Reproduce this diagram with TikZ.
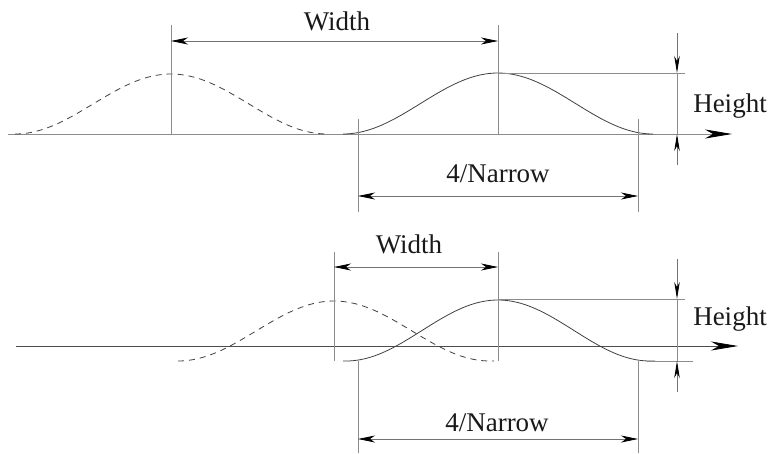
\documentclass[tikz,border=0pt]{standalone}
\usepackage{fontspec}
\setmainfont{Liberation Serif}
\usetikzlibrary{arrows.meta}
\begin{document}
\begin{tikzpicture}[x=1pt,y=-1pt,
  guide/.style={draw=black!45, line width=0.9pt},
  axisline/.style={line width=0.8pt, -{Stealth[length=27pt,width=9pt,inset=8pt,color=black]}},
  dimarrow/.style={draw=black!55, line width=0.8pt, {Stealth[length=17pt,width=7pt,inset=5pt,color=black]}-{Stealth[length=17pt,width=7pt,inset=5pt,color=black]}},
  harrow/.style={draw=black!55, line width=0.8pt, -{Stealth[length=17pt,width=5.5pt,inset=5pt,color=black]}},
  curve/.style={draw=black!75, line width=0.8pt},
  dcurve/.style={curve, dash pattern=on 6pt off 5pt},
  lbl/.style={font=\fontsize{27}{30}\selectfont, inner sep=0pt, text=black!90, anchor=base}]
\useasboundingbox (0,0) rectangle (771,453);

% ---------------- top diagram ----------------
\coordinate (a1s) at (8,134);
\coordinate (a1e) at (732,134);
\draw[axisline, draw=black!45] (a1s) -- (a1e);

\draw[dcurve] plot[domain=-156:156, samples=90] ({171+\x}, {134-30*(1+cos(\x/156*180))});
\draw[curve] plot[domain=-155:155, samples=90] ({498+\x}, {134-30.5*(1+cos(\x/155*180))});

\coordinate (v1t) at (171,25); \coordinate (v1b) at (171,134);
\coordinate (v2t) at (498,25); \coordinate (v2b) at (498,134);
\draw[guide] (v1t) -- (v1b);
\draw[guide] (v2t) -- (v2b);

\coordinate (w1l) at (171,41); \coordinate (w1r) at (498,41);
\draw[dimarrow] (w1l) -- (w1r);
\node[lbl] (w1) at (337,30) {Width};

\coordinate (p1a) at (498,73); \coordinate (p1b) at (685,73);
\draw[guide] (p1a) -- (p1b);

\coordinate (h1t) at (677,33); \coordinate (h1m) at (677,73);
\coordinate (h1n) at (677,134); \coordinate (h1b) at (677,165);
\draw[guide, line width=0.8pt] (h1m) -- (h1n);
\draw[harrow] (h1t) -- (h1m);
\draw[harrow] (h1b) -- (h1n);
\node[lbl] (ht1) at (730,112) {Height};

\coordinate (n1lt) at (358,119); \coordinate (n1lb) at (358,212);
\coordinate (n1rt) at (638,119); \coordinate (n1rb) at (638,212);
\draw[guide] (n1lt) -- (n1lb);
\draw[guide] (n1rt) -- (n1rb);
\coordinate (n1l) at (358,196); \coordinate (n1r) at (638,196);
\draw[dimarrow] (n1l) -- (n1r);
\node[lbl] (nt1) at (498,182) {4/Narrow};

% ---------------- bottom diagram ----------------
\coordinate (a2s) at (16,346);
\coordinate (a2e) at (738,346);
\draw[axisline, draw=black!70] (a2s) -- (a2e);

\draw[dcurve] plot[domain=-156:160, samples=90] ({334+\x}, {361-30*(1+cos(min(\x,156)/156*180))});
\draw[curve] plot[domain=-155:157, samples=90] ({498+\x}, {361-30.5*(1+cos(min(\x,152)/152*180))});

\coordinate (v3t) at (334,252); \coordinate (v3b) at (334,361);
\coordinate (v4t) at (498,252); \coordinate (v4b) at (498,361);
\draw[guide] (v3t) -- (v3b);
\draw[guide] (v4t) -- (v4b);

\coordinate (w2l) at (334,267); \coordinate (w2r) at (498,267);
\draw[dimarrow] (w2l) -- (w2r);
\node[lbl] (w2) at (409,253) {Width};

\coordinate (p2a) at (498,299); \coordinate (p2b) at (685,299);
\draw[guide] (p2a) -- (p2b);
\coordinate (q2a) at (647,361); \coordinate (q2b) at (693,361);
\draw[guide] (q2a) -- (q2b);

\coordinate (h2t) at (677,259); \coordinate (h2m) at (677,299);
\coordinate (h2n) at (677,361); \coordinate (h2b) at (677,392);
\draw[guide, line width=0.8pt] (h2m) -- (h2n);
\draw[harrow] (h2t) -- (h2m);
\draw[harrow] (h2b) -- (h2n);
\node[lbl] (ht2) at (730,325) {Height};

\coordinate (n2lt) at (358,361); \coordinate (n2lb) at (358,453);
\coordinate (n2rt) at (638,361); \coordinate (n2rb) at (638,453);
\draw[guide] (n2lt) -- (n2lb);
\draw[guide] (n2rt) -- (n2rb);
\coordinate (n2l) at (358,439); \coordinate (n2r) at (638,439);
\draw[dimarrow] (n2l) -- (n2r);
\node[lbl] (nt2) at (497,431) {4/Narrow};
\end{tikzpicture}
\end{document}
